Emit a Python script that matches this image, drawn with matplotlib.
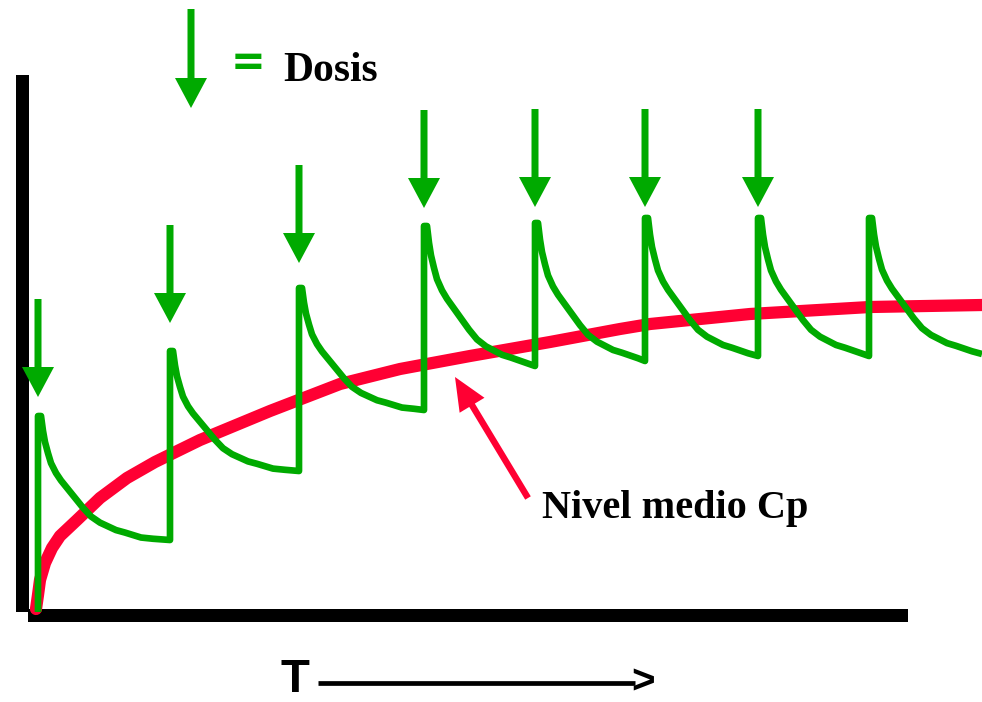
import numpy as np
import matplotlib
matplotlib.use("Agg")
import matplotlib.pyplot as plt
from matplotlib.patches import Rectangle

# --- data -------------------------------------------------------------
# dosing times (time units) and plasma levels right after / before each dose
dose_times = [0.5, 13.7, 26.6, 39.1, 50.2, 61.2, 72.5, 83.6]
peak_levels = [19.6, 26.1, 32.4, 38.6, 38.9, 39.4, 39.4, 39.4]
trough_levels = [7.2, 14.1, 20.2, 24.6, 25.1, 25.6, 25.6, 25.8]
end_time = 94.9

# fraction of (peak - trough) still present at given times after a dose
decay_offsets = [0.0, 0.3, 0.5, 0.7, 1.0, 1.3, 1.8, 2.3, 3.0, 3.7, 4.5,
                 5.3, 6.2, 7.0, 7.8, 8.7, 9.5, 10.3, 11.5]
decay_fraction = [1.0, 1.0, 0.88, 0.79, 0.70, 0.62, 0.54, 0.48, 0.41, 0.34,
                  0.26, 0.19, 0.14, 0.11, 0.08, 0.06, 0.04, 0.02, 0.01]

# dose markers: level of the arrow tip for each marked dose
arrow_tips = [21.5, 28.9, 34.9, 40.4, 40.5, 40.5, 40.5]

# mean plasma concentration (Cp)
cp_time = [0.3, 0.5, 0.7, 1.2, 1.9, 2.7, 4.4, 6.7, 9.4, 12.2, 16.7, 23.7,
           30.7, 36.7, 43.7, 51.7, 58.7, 61.7, 71.7, 83.7, 94.9]
cp_level = [0.3, 1.7, 3.2, 4.9, 6.4, 7.6, 9.2, 11.4, 13.4, 15.0, 17.2, 20.1,
            22.8, 24.3, 25.6, 27.0, 28.3, 28.8, 29.8, 30.5, 30.7]

GREEN = "#00AA00"
RED = "#FF0033"

fig = plt.figure(figsize=(9.82, 7.02), dpi=100)
ax = fig.add_axes([0, 0, 1, 1])
ax.set_xlim(-3.3, 94.9)
ax.set_ylim(-9.0, 61.2)
ax.axis("off")

# axis bars
ax.add_patch(Rectangle((-1.7, 0.0), 1.3, 53.7, color="black", lw=0))
ax.add_patch(Rectangle((-0.5, -1.0), 88.0, 1.3, color="black", lw=0))

# mean level curve
ax.plot(cp_time, cp_level, color=RED, lw=8.8, solid_capstyle="round",
        solid_joinstyle="round", zorder=2)

# saw-tooth concentration curve
gx, gy = [dose_times[0]], [0.0]
for i, td in enumerate(dose_times):
    t_next = dose_times[i + 1] if i + 1 < len(dose_times) else end_time
    pk, tr = peak_levels[i], trough_levels[i]
    gx.append(td)
    gy.append(pk)
    for off, f in zip(decay_offsets[1:], decay_fraction[1:]):
        if td + off < t_next:
            gx.append(td + off)
            gy.append(tr + f * (pk - tr))
    gx.append(t_next)
    gy.append(tr)
ax.plot(gx, gy, color=GREEN, lw=4.8, solid_joinstyle="round",
        solid_capstyle="butt", zorder=3)

# dose arrows
arrow_len = 9.8
for td, tip in zip(dose_times, arrow_tips):
    ax.arrow(td, tip + arrow_len, 0, -arrow_len, width=0.7, head_width=3.2,
             head_length=3.0, length_includes_head=True, color=GREEN, lw=0,
             zorder=4)

# legend for the dose arrow
ax.arrow(15.8, 60.3, 0, -9.9, width=0.7, head_width=3.2, head_length=3.0,
         length_includes_head=True, color=GREEN, lw=0, zorder=4)
ax.text(21.5, 54.9, "=", color=GREEN, fontsize=30, fontweight="bold",
        family="DejaVu Sans", ha="center", va="center")
ax.text(25.0, 53.1, "Dosis", color="black", fontsize=30, fontweight="bold",
        family="Liberation Serif", ha="left", va="baseline")

# label for the mean level
ax.arrow(49.5, 11.4, -7.3, 12.1, width=0.65, head_width=2.9, head_length=3.3,
         length_includes_head=True, color=RED, lw=0, zorder=4)
ax.text(50.9, 9.4, "Nivel medio Cp", color="black", fontsize=29,
        fontweight="bold", family="Liberation Serif", ha="left",
        va="baseline")

# time axis caption
ax.text(26.2, -8.95, "T", color="black", fontsize=34, fontweight="bold",
        family="Liberation Sans", ha="center", va="bottom")
ax.plot([28.5, 60.2], [-7.1, -7.1], color="black", lw=3.4,
        solid_capstyle="butt")
ax.text(61.0, -8.95, ">", color="black", fontsize=29, fontweight="bold",
        family="Liberation Sans", ha="center", va="bottom")

fig.savefig("out.png", dpi=100)
